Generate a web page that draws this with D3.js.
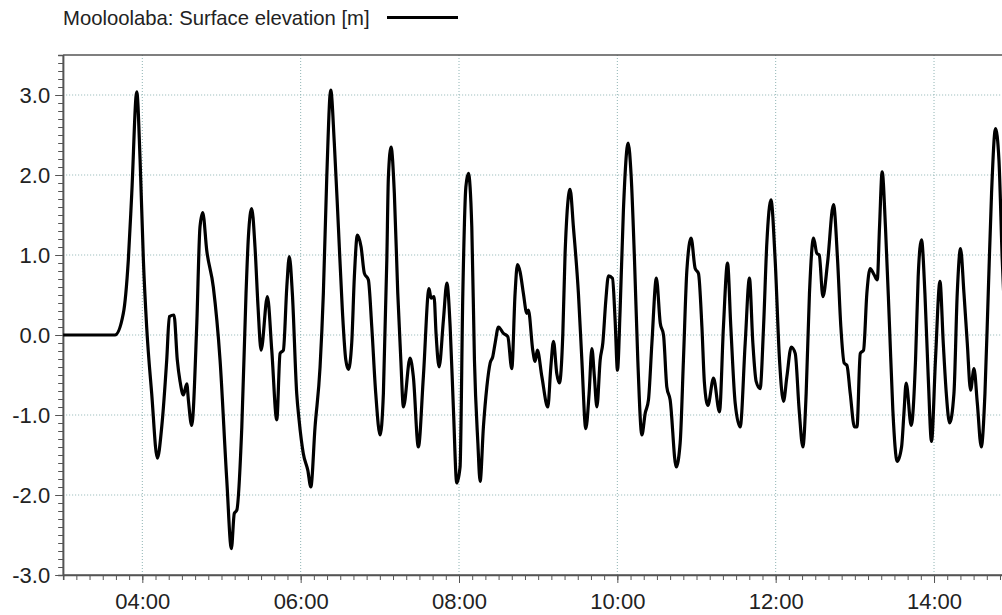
<!DOCTYPE html>
<html>
<head>
<meta charset="utf-8">
<script src="https://d3js.org/d3.v7.min.js"></script>
<style>
  body { margin: 0; background: #fff; }
  svg { display: block; font-family: "Liberation Sans", Arial, sans-serif; }
</style>
</head>
<body>
<div id="chart"></div>
<script>
// Serie: minutos desde las 03:00 y elevacion en metros
const seriesName = "Mooloolaba: Surface elevation [m]";
const minutes = [
  0, 39.3, 45.6, 49.4, 52.0, 55.8, 58.3, 60.8, 63.3, 67.1, 71.4, 74.7, 78.5, 80.5, 84.0, 86.5,
  88.6, 91.1, 93.7, 94.9, 97.4, 101.2, 103.7, 105.8, 108.8, 113.8, 118.9, 124.0, 127.5, 129.7,
  131.6, 135.4, 138.6, 140.4, 142.9, 145.4, 147.7, 150.0, 154.8, 158.1, 161.9, 164.4, 166.9,
  169.5, 171.4, 173.7, 177.0, 178.8, 182.0, 185.4, 187.7, 190.9, 194.7, 197.2, 199.8, 202.8,
  205.5, 208.6, 211.6, 214.2, 216.2, 218.7, 220.7, 223.0, 225.8, 228.3, 231.3, 233.9, 236.9,
  240.2, 242.7, 245.3, 246.5, 248.5, 251.0, 253.6, 255.9, 257.9, 262.9, 265.4, 269.2, 273.0,
  277.3, 278.8, 281.1, 282.6, 284.9, 288.2, 290.8, 293.3, 295.8, 298.3, 300.8, 302.9, 305.2,
  307.1, 309.7, 311.7, 314.3, 316.0, 318.5, 321.1, 323.6, 325.6, 327.4, 329.9, 333.7, 337.0,
  340.0, 342.5, 344.3, 346.3, 348.8, 351.4, 352.6, 355.9, 357.7, 359.4, 362.8, 367.3, 369.6,
  371.6, 374.1, 376.1, 378.7, 380.4, 384.2, 386.7, 390.5, 393.1, 396.1, 398.6, 400.7, 402.6,
  404.5, 407.0, 409.0, 411.3, 413.3, 416.3, 418.3, 420.1, 422.1, 424.6, 428.2, 430.5, 433.0,
  435.5, 438.6, 441.1, 443.6, 446.2, 449.6, 452.5, 455.0, 457.5, 460.0, 464.6, 467.6, 470.1,
  472.7, 475.9, 479.0, 481.5, 484.1, 486.0, 488.6, 492.9, 497.4, 500.4, 503.5, 506.0, 509.3,
  513.1, 516.9, 520.1, 522.7, 525.2, 528.2, 530.8, 533.3, 536.4, 539.6, 542.9, 545.9, 548.5,
  551.8, 554.8, 557.8, 560.6, 563.1, 565.6, 568.7, 571.2, 573.0, 575.8, 579.3, 583.8, 586.9,
  589.4, 591.9, 594.0, 596.5, 599.7, 601.6, 604.1, 606.6, 609.1, 611.6, 614.7, 617.0, 618.7,
  620.7, 623.2, 626.3, 628.8, 632.1, 635.4, 637.2, 638.9, 642.7, 646.0, 648.0, 650.5, 653.1,
  655.6, 658.1, 661.1, 664.5, 667.0, 669.3, 671.8, 675.1, 677.6, 680.1, 682.7, 685.2, 687.7,
  690.3, 692.8, 695.8, 698.6, 701.1, 703.6, 706.6, 709.2, 711.7, 714.0
];
const elevation = [
  0, 0, 0.27, 0.94, 1.77, 3.04, 2.19, 0.94, 0.10, -0.73, -1.54, -1.15, -0.31, 0.23, 0.25, -0.31,
  -0.58, -0.75, -0.61, -0.81, -1.13, 0.10, 1.35, 1.53, 1.06, 0.60, -0.31, -1.81, -2.67, -2.23,
  -2.19, -1.15, 0.52, 1.23, 1.58, 1.10, 0.35, -0.19, 0.48, -0.19, -1.06, -0.23, -0.19,
  0.60, 0.98, 0.52, -0.73, -1.06, -1.48, -1.69, -1.90, -1.15, -0.40, 0.52, 1.98, 3.06,
  2.40, 1.35, 0.31, -0.31, -0.43, -0.10, 0.73, 1.25, 1.10, 0.77, 0.69, 0.10, -0.73,
  -1.25, -0.73, 0.94, 1.98, 2.35, 1.77, 0.52, -0.31, -0.90, -0.29, -0.52, -1.40, -0.52,
  0.58, 0.46, 0.48, 0.02, -0.40, 0.19, 0.65, 0.10, -0.94, -1.85, -1.65, 0.52, 1.85,
  2.02, 1.35, -0.31, -1.35, -1.83, -1.15, -0.65, -0.35, -0.27, -0.10, 0.10, 0.02, -0.02,
  -0.42, 0.52, 0.88, 0.79, 0.52, 0.27, 0.31, -0.19, -0.33, -0.19, -0.52, -0.90, -0.40,
  -0.08, -0.48, -0.60, 0.02, 1.02, 1.82, 1.35, 0.52, -0.31, -1.17, -0.73, -0.17, -0.52,
  -0.90, -0.31, -0.10, 0.44, 0.74, 0.71, 0.19, -0.44, 0.31, 1.56, 2.40, 1.98, 0.94,
  -0.31, -1.25, -0.98, -0.81, -0.10, 0.71, 0.15, 0.0, -0.65, -0.81, -1.65, -1.35, -0.31,
  0.81, 1.21, 0.83, 0.77, 0.10, -0.60, -0.88, -0.54, -0.96, 0.10, 0.90, 0.10, -0.85,
  -1.15, -0.10, 0.71, -0.10, -0.58, -0.67, 0.10, 1.15, 1.69, 0.94, -0.31, -0.83, -0.52,
  -0.15, -0.23, -0.94, -1.40, -0.73, 0.52, 1.21, 1.02, 1.0, 0.48, 0.90, 1.63, 0.94,
  0.10, -0.35, -0.38, -0.73, -1.15, -1.15, -0.23, -0.19, 0.52, 0.83, 0.75, 0.69, 1.35,
  2.04, 1.35, 0.10, -0.94, -1.58, -1.40, -0.98, -0.60, -1.13, -0.31, 0.73, 1.19, 0.52,
  -0.52, -1.33, -0.31, 0.67, -0.10, -0.73, -1.10, -0.73, 0.52, 1.08, 0.52, -0.10, -0.69,
  -0.42, -0.85, -1.40, -0.73, 0.52, 1.77, 2.58, 2.19, 0.94, 0.05
];
const yTicks = [-3.0, -2.0, -1.0, 0.0, 1.0, 2.0, 3.0];

const width = 1002, height = 615;
const margin = { left: 63.15, top: 55, bottom: 575 };
const plotRight = margin.left + 12 * 79.17;  // el marco sigue fuera de la ventana

const t0 = new Date(2000, 0, 1, 3, 0);
const t1 = new Date(2000, 0, 1, 15, 0);
const data = minutes.map((m, i) => ({ t: new Date(t0.getTime() + m * 60000), v: elevation[i] }));

const x = d3.scaleTime().domain([t0, t1]).range([margin.left, plotRight]);
const y = d3.scaleLinear().domain([-3, 3.5]).range([margin.bottom, margin.top]);

const svg = d3.select("#chart").append("svg")
  .attr("width", width)
  .attr("height", height);

// Rejilla punteada
const hourTicks = d3.timeHour.every(2).range(t0, t1);
svg.append("g").selectAll("line").data(hourTicks).enter().append("line")
  .attr("x1", d => x(d)).attr("x2", d => x(d))
  .attr("y1", margin.top).attr("y2", margin.bottom)
  .attr("stroke", "#8fb4b4").attr("stroke-width", 1).attr("stroke-dasharray", "1,2");
svg.append("g").selectAll("line").data(yTicks.filter(d => d > -3)).enter().append("line")
  .attr("x1", margin.left).attr("x2", width)
  .attr("y1", d => y(d)).attr("y2", d => y(d))
  .attr("stroke", "#8fb4b4").attr("stroke-width", 1).attr("stroke-dasharray", "1,2");

// Eje X: menores cada 10 minutos, mayores cada 2 horas
const xMinor = d3.axisBottom(x).ticks(d3.timeMinute.every(10)).tickSize(5).tickFormat("");
const gxMinor = svg.append("g").attr("transform", `translate(0,${margin.bottom})`).call(xMinor);
const xMajor = d3.axisBottom(x).tickValues(hourTicks).tickSize(8).tickPadding(10)
  .tickFormat(d3.timeFormat("%H:%M"));
const gx = svg.append("g").attr("transform", `translate(0,${margin.bottom})`).call(xMajor);

// Eje Y: menores cada 0.1
const yMinor = d3.axisLeft(y).tickValues(d3.range(-30, 36).map(d => d / 10)).tickSize(5).tickFormat("");
const gyMinor = svg.append("g").attr("transform", `translate(${margin.left},0)`).call(yMinor);
const yMajor = d3.axisLeft(y).tickValues(yTicks).tickSize(8).tickPadding(5).tickFormat(d => d.toFixed(1));
const gy = svg.append("g").attr("transform", `translate(${margin.left},0)`).call(yMajor);

[gxMinor, gx, gyMinor, gy].forEach(g => {
  g.select(".domain").attr("stroke", "#555").attr("stroke-width", 1.5);
  g.selectAll(".tick line").attr("stroke", "#555");
  g.selectAll("text").attr("font-size", 22).attr("fill", "#222")
    .attr("font-family", "\"Liberation Sans\", Arial, sans-serif");
});
gx.select(".domain").attr("d", `M${margin.left},0H${plotRight}`);
gy.select(".domain").attr("d", `M0,${margin.bottom}V${margin.top}`);

// Borde superior
svg.append("line")
  .attr("x1", margin.left).attr("x2", plotRight)
  .attr("y1", margin.top).attr("y2", margin.top)
  .attr("stroke", "#555").attr("stroke-width", 1.5);

// Linea de la serie
const line = d3.line()
  .x(d => x(d.t))
  .y(d => y(d.v))
  .curve(d3.curveMonotoneX);

svg.append("path")
  .datum(data)
  .attr("fill", "none")
  .attr("stroke", "#000")
  .attr("stroke-width", 3.2)
  .attr("stroke-linejoin", "round")
  .attr("d", line);

// Leyenda
svg.append("text")
  .attr("x", 63).attr("y", 25)
  .attr("font-size", 20.3).attr("fill", "#222")
  .text(seriesName);
svg.append("line")
  .attr("x1", 387).attr("x2", 458)
  .attr("y1", 17.5).attr("y2", 17.5)
  .attr("stroke", "#000").attr("stroke-width", 3);
</script>
</body>
</html>
